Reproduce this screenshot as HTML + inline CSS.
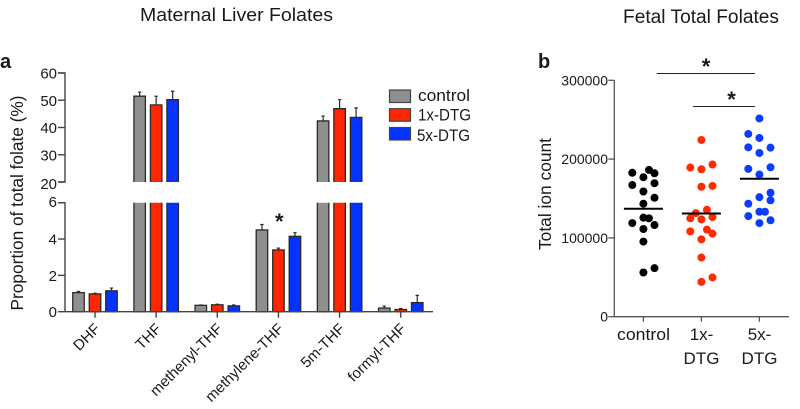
<!DOCTYPE html>
<html lang="en">
<head>
<meta charset="utf-8">
<title>Maternal Liver and Fetal Total Folates</title>
<style>
html,body{margin:0;padding:0;background:#fff;width:800px;height:409px;overflow:hidden}
svg{display:block}
text{font-family:"Liberation Sans",sans-serif;fill:#1a1a1a}
</style>
</head>
<body>
<svg id="fig" xmlns="http://www.w3.org/2000/svg" width="800" height="409" viewBox="0 0 800 409">
  <rect width="800" height="409" fill="#fff"/>
  <text x="140" y="21" font-size="18.5" textLength="193" lengthAdjust="spacingAndGlyphs">Maternal Liver Folates</text>
  <text x="623" y="23" font-size="19" textLength="156" lengthAdjust="spacingAndGlyphs">Fetal Total Folates</text>
  <text x="0" y="68" font-size="20" font-weight="bold" fill="#000">a</text>
  <text x="538" y="68" font-size="20" font-weight="bold" fill="#000">b</text>
  <text transform="translate(23,203) rotate(-90)" font-size="17.5" text-anchor="middle" textLength="215" lengthAdjust="spacingAndGlyphs">Proportion of total folate (%)</text>
  <text transform="translate(551,194) rotate(-90)" font-size="17.5" text-anchor="middle" textLength="112" lengthAdjust="spacingAndGlyphs">Total ion count</text>

  <g>
    <rect x="389.5" y="90" width="21" height="12.5" fill="#8f8f8f" stroke="#444" stroke-width="1.2"/>
    <text x="418" y="101" font-size="17" textLength="52" lengthAdjust="spacingAndGlyphs">control</text>
    <rect x="389.5" y="108.7" width="21" height="12.5" fill="#ff2600" stroke="#444" stroke-width="1.2"/>
    <text x="418" y="120.5" font-size="17" textLength="53" lengthAdjust="spacingAndGlyphs">1x-DTG</text>
    <rect x="389.5" y="127.5" width="21" height="12.5" fill="#0433ff" stroke="#444" stroke-width="1.2"/>
    <text x="417" y="141" font-size="17" textLength="53" lengthAdjust="spacingAndGlyphs">5x-DTG</text>
  </g>

  <text x="279.3" y="229" font-size="22" font-weight="bold" text-anchor="middle" fill="#111">*</text>
  <line x1="656.7" x2="755" y1="73.5" y2="73.5" stroke="#222" stroke-width="1"/>
  <text x="706" y="74" font-size="22" font-weight="bold" text-anchor="middle" fill="#111">*</text>
  <line x1="693" x2="755" y1="106.5" y2="106.5" stroke="#222" stroke-width="1"/>
  <text x="731.5" y="107" font-size="22" font-weight="bold" text-anchor="middle" fill="#111">*</text>

  <g id="panelA"></g>
  <g id="panelB"></g>

  <text x="643.5" y="340" font-size="17" text-anchor="middle" textLength="53" lengthAdjust="spacingAndGlyphs">control</text>
  <text x="701.5" y="340" font-size="17" text-anchor="middle">1x-</text>
  <text x="701.5" y="364" font-size="17" text-anchor="middle">DTG</text>
  <text x="759.5" y="340" font-size="17" text-anchor="middle">5x-</text>
  <text x="759.5" y="364" font-size="17" text-anchor="middle">DTG</text>
</svg>

<script>
// ---- Panel a data ----
const folateCategories = ['DHF', 'THF', 'methenyl-THF', 'methylene-THF', '5m-THF', 'formyl-THF'];
const controlMeans = [1.05, 51.5, 0.35, 4.5, 42.4, 0.2];
const controlErrors = [0.06, 1.5, 0.02, 0.3, 1.8, 0.11];
const dtg1xMeans = [0.98, 48.3, 0.38, 3.4, 46.9, 0.12];
const dtg1xErrors = [0.04, 3.2, 0.03, 0.1, 3.3, 0.06];
const dtg5xMeans = [1.15, 50.2, 0.32, 4.15, 43.7, 0.5];
const dtg5xErrors = [0.15, 3.1, 0.05, 0.2, 3.5, 0.4];
const upperTicks = [20, 30, 40, 50, 60];
const lowerTicks = [0, 2, 4, 6];

// ---- Panel b data ----
const controlValues = [182600, 186300, 182000, 177000, 167100, 169400, 158900, 150900, 143400, 125700, 124800, 118800, 116300, 111300, 95300, 61600, 56100];
const controlColumns = [-2, 1, 2, 0, -2, 2, 0, 2, 0, 0, 1, -2, 2, 0, 0, 2, 0];
const controlMean = 137000;
const dtg1xValues = [224300, 189300, 187100, 193100, 164900, 165900, 135800, 131500, 124900, 123500, 126400, 108300, 110500, 105400, 98200, 75100, 49800, 44200];
const dtg1xColumns = [0, -2, 0, 2, 0, 2, 1, -1, -2, 0, 2, -2, 1, 2, 0, 0, 2, 0];
const dtg1xMean = 131000;
const dtg5xValues = [251600, 231900, 226800, 214900, 214500, 207800, 187600, 189600, 180400, 157300, 151700, 143400, 147700, 133200, 133200, 127700, 122400, 118800];
const dtg5xColumns = [0, -2, 0, -2, 2, 0, -2, 2, 0, 2, 0, -2, 2, 0, 1, -2, 2, 0];
const dtg5xMean = 175000;
const dotTicks = [0, 100000, 200000, 300000];

const SVGNS = 'http://www.w3.org/2000/svg';
function mk(tag, attrs, parent) {
  const el = document.createElementNS(SVGNS, tag);
  for (const k in attrs) el.setAttribute(k, attrs[k]);
  parent.appendChild(el);
  return el;
}

// ---- Panel a axes ----
const panelA = document.getElementById('panelA');
const axisAX = 65, baseY = 311.7, lowerTopY = 202.7, upperBottomY = 182, upperTopY = 73;
const yLower = v => baseY - (v / 6) * (baseY - lowerTopY);
const yUpper = v => upperBottomY - ((v - 20) / 40) * (upperBottomY - upperTopY);
const xGroup = i => 95 + i * 61.15;
const yVal = v => (v > 6 ? yUpper(v) : yLower(v));
const barW = 11.5, barOffset = 16.5;

const seriesA = [
  { name: 'control', fill: '#8f8f8f', means: controlMeans, errs: controlErrors, off: -1 },
  { name: '1x-dtg', fill: '#ff2600', means: dtg1xMeans, errs: dtg1xErrors, off: 0 },
  { name: '5x-dtg', fill: '#0433ff', means: dtg5xMeans, errs: dtg5xErrors, off: 1 }
];

seriesA.forEach(s => {
  s.means.forEach((m, i) => {
    const x = xGroup(i) + s.off * barOffset - barW / 2;
    const tall = m > 6;
    const y = yVal(m);
    const strokeAttrs = { stroke: '#2a2a2a', 'stroke-width': 1.3 };
    if (tall) {
      const top = mk('path', Object.assign({ d: `M${x},${upperBottomY}V${y}H${x + barW}V${upperBottomY}`, fill: s.fill }, strokeAttrs), panelA);
      
      
      const low = mk('path', Object.assign({ d: `M${x},${lowerTopY}V${baseY}H${x + barW}V${lowerTopY}`, fill: s.fill }, strokeAttrs), panelA);
      
      
    } else {
      const bar = mk('rect', Object.assign({ x: x, y: y, width: barW, height: baseY - y, fill: s.fill }, strokeAttrs), panelA);
      
      
    }
    const cx = x + barW / 2;
    const ye = yVal(m + s.errs[i]);
    const err = mk('path', { d: `M${cx},${y}V${ye}M${cx - 1.7},${ye}H${cx + 1.7}`, fill: 'none', stroke: '#2a2a2a', 'stroke-width': 1.2 }, panelA);
    
    
  });
});

const axisUpper = mk('path', { d: `M${axisAX - 7},${upperBottomY}H${axisAX}V${upperTopY}H${axisAX - 7}`, fill: 'none', stroke: '#444', 'stroke-width': 1.4 }, panelA);


const axisLower = mk('path', { d: `M${axisAX - 7},${lowerTopY}H${axisAX}V${baseY}H433`, fill: 'none', stroke: '#444', 'stroke-width': 1.4 }, panelA);



function yTickA(v, yPos, labelY) {
  const t = mk('line', { x1: axisAX - 7, x2: axisAX, y1: yPos, y2: yPos, stroke: '#444', 'stroke-width': 1.4 }, panelA);
  
  
  const l = mk('text', { x: 57, y: labelY, 'font-size': 15, 'text-anchor': 'end' }, panelA);
  
  
  l.textContent = v;
}
upperTicks.forEach(v => yTickA(v, yUpper(v), yUpper(v) + (v === 20 ? 7 : 5.5)));
lowerTicks.forEach(v => yTickA(v, yLower(v), yLower(v) + (v === 6 ? 4.5 : 5.5)));

folateCategories.forEach((c, i) => {
  const x = xGroup(i);
  const t = mk('line', { x1: x, x2: x, y1: baseY, y2: baseY + 6, stroke: '#444', 'stroke-width': 1.4 }, panelA);
  
  
  const lx = x + 6, ly = baseY + 18;
  const l = mk('text', { x: lx, y: ly, 'font-size': 15, 'text-anchor': 'end', transform: `rotate(-45 ${lx} ${ly})` }, panelA);
  
  
  l.textContent = c;
});

// ---- Panel b axes ----
const panelB = document.getElementById('panelB');
const axisBX = 614.3, baseB = 316.7, topB = 80.3;
const yDots = v => baseB - (v / 300000) * (baseB - topB);
const xDots = i => 643.4 + i * 58;
const columnStep = 5.55;

const seriesB = [
  { name: 'control', fill: '#000', vals: controlValues, cols: controlColumns, mean: controlMean },
  { name: '1x-dtg', fill: '#ff2a00', vals: dtg1xValues, cols: dtg1xColumns, mean: dtg1xMean },
  { name: '5x-dtg', fill: '#0a3cff', vals: dtg5xValues, cols: dtg5xColumns, mean: dtg5xMean }
];

const axisB = mk('path', { d: `M${axisBX},${topB}V${baseB}H789`, fill: 'none', stroke: '#555', 'stroke-width': 1.3 }, panelB);



dotTicks.forEach(v => {
  const y = yDots(v);
  const t = mk('line', { x1: axisBX - 6, x2: axisBX, y1: y, y2: y, stroke: '#555', 'stroke-width': 1.3 }, panelB);
  
  
  const l = mk('text', { x: 608, y: y + 5, 'font-size': 14, 'text-anchor': 'end' }, panelB);
  
  
  l.textContent = v;
});

seriesB.forEach((s, i) => {
  const cx = xDots(i);
  const t = mk('line', { x1: cx, x2: cx, y1: baseB, y2: baseB + 5, stroke: '#555', 'stroke-width': 1.3 }, panelB);
  
  
  s.vals.forEach((v, j) => {
    const d = mk('circle', { cx: cx + s.cols[j] * columnStep, cy: yDots(v), r: 4, fill: s.fill }, panelB);
    
    
  });
  const m = mk('line', { x1: cx - 19.5, x2: cx + 19.5, y1: yDots(s.mean), y2: yDots(s.mean), stroke: '#000', 'stroke-width': 2 }, panelB);
  
  
});
</script>
</body>
</html>
